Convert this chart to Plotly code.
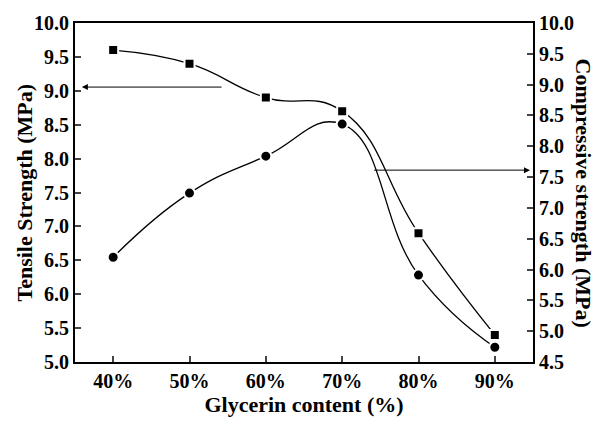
import plotly.graph_objects as go

glycerin = [40, 50, 60, 70, 80, 90]
x_ticks = ["40%", "50%", "60%", "70%", "80%", "90%"]
tensile = [9.6, 9.4, 8.9, 8.7, 6.9, 5.4]
compressive = [6.2, 7.24, 7.84, 8.36, 5.91, 4.74]

FONT = "Liberation Serif"

fig = go.Figure()
fig.add_trace(go.Scatter(
    x=glycerin, y=tensile, mode="lines+markers", yaxis="y",
    line=dict(color="black", width=1.3, shape="spline", smoothing=1.3),
    marker=dict(symbol="square", size=10, color="black", line=dict(color="white", width=2)),
    showlegend=False))
fig.add_trace(go.Scatter(
    x=glycerin, y=compressive, mode="lines+markers", yaxis="y2",
    line=dict(color="black", width=1.3, shape="spline", smoothing=1.3),
    marker=dict(symbol="circle", size=11, color="black", line=dict(color="white", width=2)),
    showlegend=False))

tickfont = dict(family=FONT, size=20, color="black", weight="bold")
fig.update_layout(
    width=595, height=425,
    margin=dict(l=75, r=62, t=18, b=59),
    plot_bgcolor="white", paper_bgcolor="white",
    font=dict(family=FONT, color="black"),
    xaxis=dict(range=[35, 95], tickvals=glycerin, ticktext=x_ticks,
               ticks="inside", ticklen=6, tickwidth=2, showline=True, linewidth=2,
               linecolor="black", mirror=True, showgrid=False, zeroline=False,
               tickfont=tickfont,
               title=dict(text="Glycerin content (%)",
                          font=dict(family=FONT, size=22, weight="bold"), standoff=6)),
    yaxis=dict(range=[5, 10], dtick=0.5, tickformat=".1f", ticks="inside", ticklen=6,
               tickwidth=2, showline=True, linewidth=2, linecolor="black",
               showgrid=False, zeroline=False, tickfont=tickfont),
    yaxis2=dict(range=[4.5, 10], dtick=0.5, tickformat=".1f", ticks="inside", ticklen=6,
                tickwidth=2, showline=True, linewidth=2, linecolor="black",
                overlaying="y", side="right", showgrid=False, zeroline=False,
                tickfont=tickfont),
)

# axis titles
fig.add_annotation(text="Tensile Strength (MPa)", xref="paper", yref="paper",
                   x=0, y=0.5, xanchor="center", yanchor="middle", xshift=-51,
                   textangle=-90, showarrow=False,
                   font=dict(family=FONT, size=22, color="black", weight="bold"))
fig.add_annotation(text="Compressive strength (MPa)", xref="paper", yref="paper",
                   x=1, y=0.5, xanchor="center", yanchor="middle", xshift=50,
                   textangle=90, showarrow=False,
                   font=dict(family=FONT, size=22, color="black", weight="bold"))

# arrows
fig.add_annotation(x=35.9, y=9.055, ax=54.4, ay=9.055, xref="x", yref="y", axref="x", ayref="y",
                   showarrow=True, arrowhead=2, arrowsize=1.2, arrowwidth=1, arrowcolor="black", text="")
fig.add_annotation(x=94.6, y=7.83, ax=74.0, ay=7.83, xref="x", yref="y", axref="x", ayref="y",
                   showarrow=True, arrowhead=2, arrowsize=1.2, arrowwidth=1, arrowcolor="black", text="")

fig.write_html("out.html")
